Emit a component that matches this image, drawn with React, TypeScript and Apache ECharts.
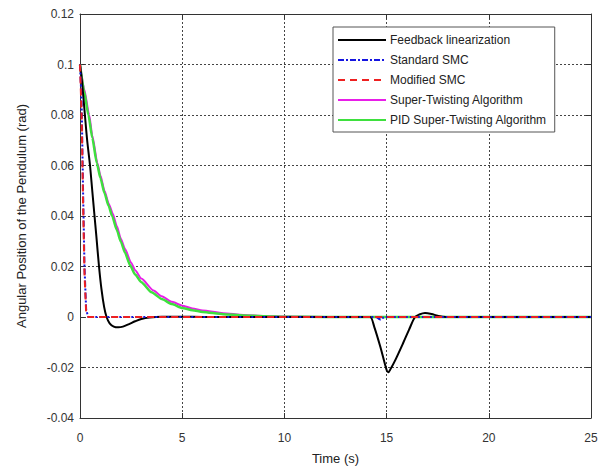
import React, { useEffect, useRef } from "react";
import * as echarts from "echarts";

const seriesNames = [
  "Feedback linearization",
  "Standard SMC",
  "Modified SMC",
  "Super-Twisting Algorithm",
  "PID Super-Twisting Algorithm",
];

const fbT = [0, 0.1, 0.24, 0.35, 0.49, 0.6, 0.7, 0.8, 0.93, 1.05, 1.18, 1.3, 1.45, 1.65, 1.88, 2.1, 2.4, 2.7, 3.0, 3.4, 4, 5, 6, 8, 10, 12, 14, 14.2, 14.4, 14.7, 15.0, 15.08, 15.2, 15.4, 15.8, 16.1, 16.39, 16.6, 16.88, 17.2, 17.5, 17.9, 20, 25];
const fbV = [0.1, 0.093, 0.08, 0.07, 0.06, 0.05, 0.041, 0.032, 0.02, 0.011, 0.004, 0, -0.0025, -0.0038, -0.0041, -0.0038, -0.0028, -0.0017, -0.0008, -0.0002, 0.0001, 0.0001, 0, 0, 0, 0, 0, 0, -0.004, -0.012, -0.021, -0.0219, -0.0205, -0.0175, -0.0105, -0.005, 0, 0.001, 0.0016, 0.0012, 0.0005, 0, 0, 0];

const smcT = [0, 0.08, 0.15, 0.22, 0.3, 0.4, 14.5, 14.6, 14.7, 14.8, 14.9, 25];
const smcV = [0.1, 0.085, 0.05, 0.02, 0.003, 0, 0, -0.0006, -0.001, -0.0004, 0, 0];

const modT = [0, 0.08, 0.15, 0.22, 0.3, 0.4, 25];
const modV = [0.1, 0.08, 0.045, 0.017, 0.002, 0, 0];

const staT = [0, 0.2, 0.45, 0.6, 0.85, 1.0, 1.2, 1.4, 1.6, 1.8, 2.0, 2.2, 2.5, 2.7, 3.0, 3.6, 4.0, 4.5, 5, 5.5, 6, 7, 8, 9, 10, 12, 25];
const staV = [0.1, 0.0905, 0.08, 0.072, 0.061, 0.056, 0.05, 0.045, 0.041, 0.036, 0.031, 0.027, 0.0215, 0.0185, 0.0152, 0.0105, 0.0082, 0.006, 0.0045, 0.0034, 0.0026, 0.0015, 0.0008, 0.0004, 0.0002, 0, 0];

const pidT = [0, 0.2, 0.41, 0.6, 0.82, 1.0, 1.2, 1.4, 1.57, 1.8, 2.0, 2.2, 2.45, 2.7, 3.0, 3.5, 4.0, 4.5, 5, 5.5, 6, 7, 8, 9, 10, 12, 25];
const pidV = [0.1, 0.0895, 0.08, 0.071, 0.061, 0.055, 0.049, 0.044, 0.04, 0.0345, 0.0298, 0.0255, 0.0205, 0.0168, 0.0138, 0.0098, 0.0071, 0.0051, 0.0036, 0.0027, 0.002, 0.0011, 0.0006, 0.0003, 0.0001, 0, 0];

const xTicks = [0, 5, 10, 15, 20, 25];
const yTicks = [-0.04, -0.02, 0, 0.02, 0.04, 0.06, 0.08, 0.1, 0.12];

const zip = (t: number[], v: number[]) => t.map((x, i) => [x, v[i]]);

const FONT = "'Liberation Sans', Arial, sans-serif";

export default function App() {
  const ref = useRef<HTMLDivElement>(null);
  useEffect(() => {
    if (!ref.current) return;
    const chart = echarts.init(ref.current, null, { renderer: "svg" });
    const gridLine = { show: true, lineStyle: { color: "#444", type: [2, 2] as any, width: 1 } };
    const axisBase = {
      axisLine: { show: true, onZero: false, lineStyle: { color: "#333", width: 1 } },
      axisTick: { show: true, inside: true, length: 5, lineStyle: { color: "#333" } },
    };
    chart.setOption({
      animation: false,
      backgroundColor: "#fff",
      grid: { left: 80, right: 17, top: 14, bottom: 57, containLabel: false },
      legend: {
        data: seriesNames,
        orient: "vertical",
        left: 333,
        top: 27,
        width: 251,
        itemWidth: 48,
        itemHeight: 10,
        itemGap: 8,
        padding: [7, 8, 6, 4],
        backgroundColor: "#fff",
        borderColor: "#555",
        borderWidth: 1,
        borderRadius: 0,
        itemStyle: { opacity: 0 },
        textStyle: { fontFamily: FONT, fontSize: 12, color: "#222", padding: [0, 0, 0, -1] },
      },
      xAxis: [
        {
          type: "value",
          min: 0,
          max: 25,
          interval: 5,
          ...axisBase,
          splitLine: gridLine,
          axisLabel: { fontFamily: FONT, fontSize: 12, color: "#333", margin: 14,
            formatter: (v: number) => (xTicks.includes(v) ? String(v) : "") },
          name: "Time (s)",
          nameLocation: "middle",
          nameGap: 34,
          nameTextStyle: { fontFamily: FONT, fontSize: 13, color: "#222" },
        },
        {
          type: "value",
          position: "top",
          min: 0,
          max: 25,
          interval: 5,
          ...axisBase,
          splitLine: { show: false },
          axisLabel: { show: false },
        },
      ],
      yAxis: [
        {
          type: "value",
          min: -0.04,
          max: 0.12,
          interval: 0.02,
          ...axisBase,
          splitLine: gridLine,
          axisLabel: {
            fontFamily: FONT, fontSize: 12, color: "#333", margin: 6,
            formatter: (v: number) => {
              const r = Number(v.toFixed(2));
              return yTicks.some((y) => Math.abs(y - r) < 1e-9) ? String(r) : "";
            },
          },
          name: "Angular Position of the Pendulum (rad)",
          nameLocation: "middle",
          nameGap: 52,
          nameTextStyle: { fontFamily: FONT, fontSize: 13, color: "#222" },
        },
        {
          type: "value",
          position: "right",
          min: -0.04,
          max: 0.12,
          interval: 0.02,
          ...axisBase,
          splitLine: { show: false },
          axisLabel: { show: false },
        },
      ],
      series: [
        {
          name: seriesNames[0], type: "line", symbol: "none", data: zip(fbT, fbV),
          smooth: 0.3, lineStyle: { color: "#000", width: 2 }, itemStyle: { color: "#000" }, z: 3,
        },
        {
          name: seriesNames[1], type: "line", symbol: "none", data: zip(smcT, smcV),
          lineStyle: { color: "#1515e0", width: 2, type: [6, 2, 2, 2] }, itemStyle: { color: "#1515e0" }, z: 4,
        },
        {
          name: seriesNames[2], type: "line", symbol: "none", data: zip(modT, modV),
          lineStyle: { color: "#ee2020", width: 2, type: [7, 5] }, itemStyle: { color: "#ee2020" }, z: 4,
        },
        {
          name: seriesNames[3], type: "line", symbol: "none", data: zip(staT, staV),
          smooth: 0.2, smoothMonotone: "x", lineStyle: { color: "#e81ee8", width: 2 }, itemStyle: { color: "#e81ee8" }, z: 2,
        },
        {
          name: seriesNames[4], type: "line", symbol: "none", data: zip(pidT, pidV),
          smooth: 0.2, smoothMonotone: "x", lineStyle: { color: "#3ee03e", width: 2.5 }, itemStyle: { color: "#3ee03e" }, z: 2,
        },
      ],
    });
    return () => chart.dispose();
  }, []);
  return <div ref={ref} style={{ width: 608, height: 475, position: "absolute", left: 0, top: 0 }} />;
}
